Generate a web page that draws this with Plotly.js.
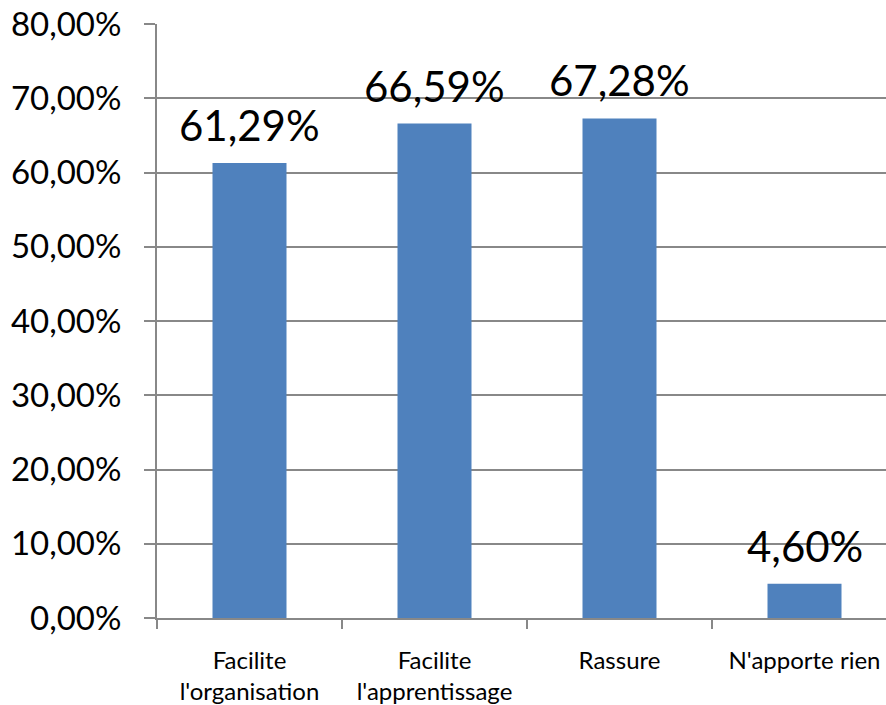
<!DOCTYPE html>
<html><head><meta charset="utf-8">
<script src="https://cdn.plot.ly/plotly-3.0.1.min.js"></script>
<style>html,body{margin:0;padding:0;overflow:hidden;background:#fff}</style>
</head><body><div id="chart"></div>
<script>
const categories = ["Facilite<br>l'organisation", "Facilite<br>l'apprentissage", "Rassure", "N'apporte rien"];
const values = [0.6129, 0.6659, 0.6728, 0.046];
const labels = values.map(v => (v*100).toFixed(2).replace('.', ',') + '%');
const FONT = 'Lato, sans-serif';
const annotations = categories.map((c, i) => ({
  x: c, y: values[i], xref: 'x', yref: 'y', text: labels[i], showarrow: false,
  yanchor: 'bottom', yshift: 11, font: {family: FONT, size: 42, color: '#000'}
}));
Plotly.newPlot('chart', [{
  type: 'bar', x: categories, y: values,
  marker: {color: '#4F81BD'}, width: 0.4, hoverinfo: 'none'
}], {
  width: 900, height: 705,
  margin: {l: 157, r: 3, t: 24, b: 87},
  separators: ', ',
  paper_bgcolor: '#fff', plot_bgcolor: '#fff',
  showlegend: false,
  annotations: annotations,
  xaxis: {
    type: 'category', showline: true, linecolor: '#888', linewidth: 2,
    ticks: 'outside', tickson: 'boundaries', ticklen: 9, tickcolor: '#888', tickwidth: 2,
    tickfont: {family: FONT, size: 24, color: '#000'}, showgrid: false, ticklabelstandoff: 20
  },
  yaxis: {
    range: [0, 0.8], dtick: 0.1, tickformat: '.2%',
    showline: true, linecolor: '#888', linewidth: 2,
    gridcolor: '#888', gridwidth: 2, zeroline: false,
    ticks: 'outside', ticklen: 11, tickcolor: '#888', tickwidth: 2,
    tickfont: {family: FONT, size: 33, color: '#000'}, ticklabelstandoff: 16
  }
}, {staticPlot: true});
</script></body></html>
